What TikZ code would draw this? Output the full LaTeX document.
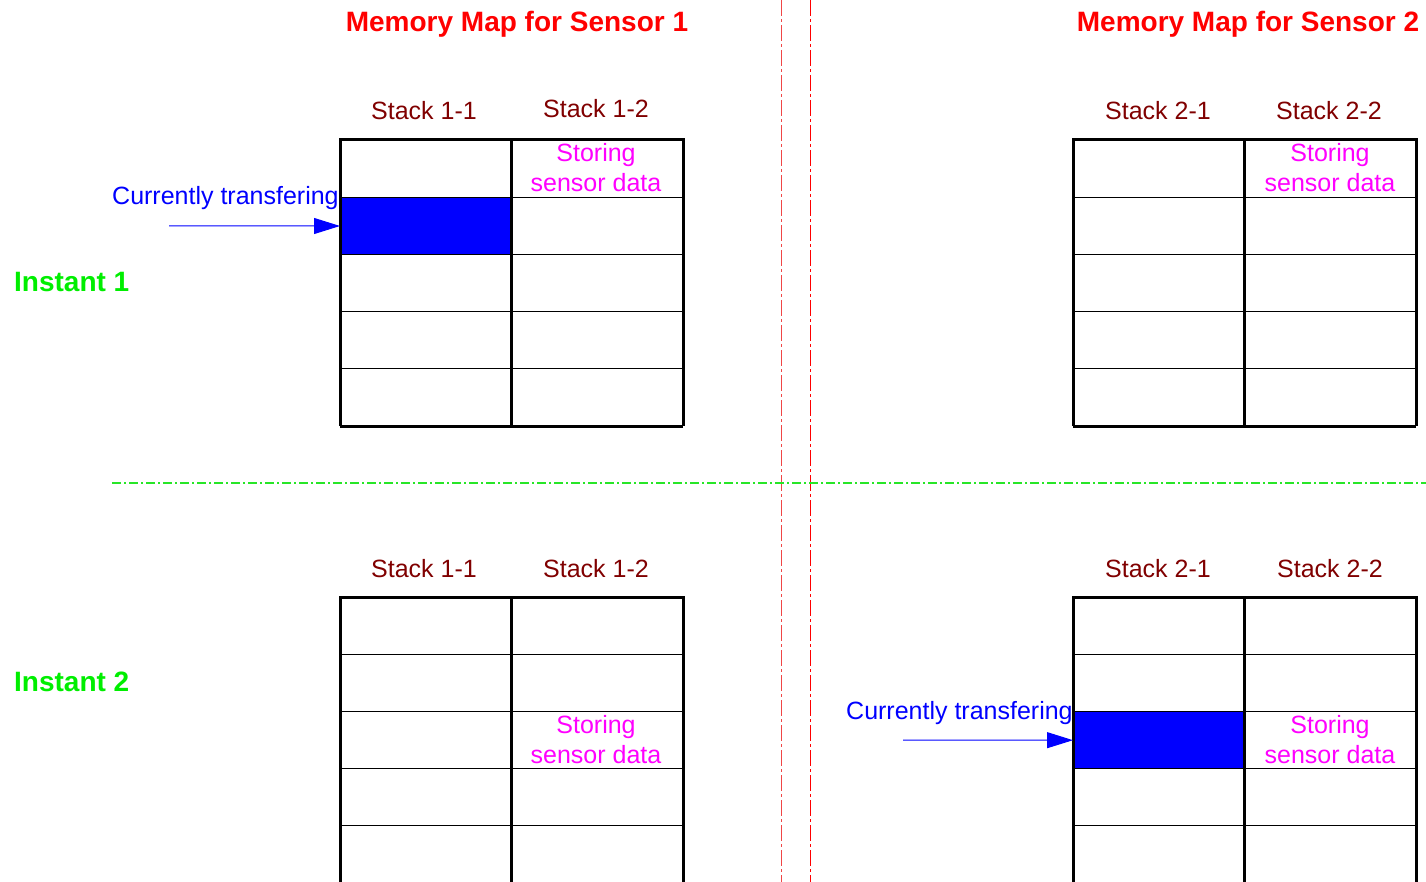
\documentclass[tikz,border=0pt]{standalone}
\usepackage{fontspec}
\setmainfont{Liberation Sans}
\definecolor{titlered}{RGB}{255,0,0}
\definecolor{stackred}{RGB}{128,0,0}
\definecolor{storemag}{RGB}{255,0,255}
\definecolor{instgreen}{RGB}{0,238,0}
\definecolor{xferblue}{RGB}{0,0,255}
\definecolor{sepgreen}{RGB}{40,230,40}
\definecolor{seppink}{RGB}{240,70,70}
\newcommand\memgrid[3]{% #1 left x, #2 top y, #3 bottom y
  \foreach \k in {1,...,4} {\draw[cellline] (#1,{#2+57.2*\k}) -- ({#1+343},{#2+57.2*\k});}
  \draw[gridline] (#1,#3) -- (#1,#2) -- ({#1+343},#2) -- ({#1+343},#3);
  \draw[gridline] (#1,#3) -- ({#1+343},#3);
  \draw[gridline] ({#1+171},#2) -- ({#1+171},#3);
}
\tikzset{
  titletext/.style={font=\bfseries\fontsize{28}{32}\selectfont, text=titlered, inner sep=0pt, anchor=base},
  instanttext/.style={font=\bfseries\fontsize{28}{32}\selectfont, text=instgreen, inner sep=0pt, anchor=base west},
  stacktext/.style={font=\fontsize{25}{30}\selectfont, text=stackred, inner sep=0pt, anchor=base},
  storetext/.style={font=\fontsize{25}{30}\selectfont, text=storemag, inner sep=0pt, anchor=base},
  xfertext/.style={font=\fontsize{25}{30}\selectfont, text=xferblue, inner sep=0pt, anchor=base west},
  bluecell/.style={fill=xferblue, draw=none, minimum width=171pt, minimum height=57.2pt, inner sep=0pt, anchor=north west},
  xferarrow/.style={draw=xferblue, line width=1pt, -{Triangle[length=26pt,width=16pt]}},
  cellline/.style={line width=1.3pt, black},
  gridline/.style={line width=3pt, black},
  vsep/.style={line width=1.8pt, dash pattern=on 16pt off 3pt on 3pt off 3pt},
  hsep/.style={draw=sepgreen, line width=1.3pt, dash pattern=on 9pt off 3pt on 2pt off 3pt},
}
\usetikzlibrary{arrows.meta}
\begin{document}
\begin{tikzpicture}[x=1pt,y=-1pt]
\useasboundingbox (0,0) rectangle (1426,882);
\clip (0,0) rectangle (1426,882);
% separators
\coordinate (v1t) at (781.5,0); \coordinate (v1b) at (781.5,882);
\coordinate (v2t) at (810.5,0); \coordinate (v2b) at (810.5,882);
\coordinate (hl) at (112,483); \coordinate (hr) at (1426,483);
\draw[vsep, draw=seppink] (v1t) -- (v1b);
\draw[vsep, draw=titlered] (v2t) -- (v2b);
\draw[hsep] (hl) -- (hr);
% titles
\node[titletext] (t1) at (517,32) {Memory Map for Sensor 1};
\node[titletext] (t2) at (1248,32) {Memory Map for Sensor 2};
\node[instanttext] (i1) at (14,292) {Instant 1};
\node[instanttext] (i2) at (14,691) {Instant 2};
% stack labels
\node[stacktext] (s11a) at (424,120) {Stack 1-1};
\node[stacktext] (s12a) at (596,118) {Stack 1-2};
\node[stacktext] (s21a) at (1158,120) {Stack 2-1};
\node[stacktext] (s22a) at (1329,120) {Stack 2-2};
\node[stacktext] (s11b) at (424,577) {Stack 1-1};
\node[stacktext] (s12b) at (596,577) {Stack 1-2};
\node[stacktext] (s21b) at (1158,577) {Stack 2-1};
\node[stacktext] (s22b) at (1330,577) {Stack 2-2};
% blue cells
\node[bluecell] (b1) at (340,197.2) {};
\node[bluecell] (b2) at (1073,711.4) {};
% grids
\memgrid{340}{140}{426}
\memgrid{1073}{140}{426}
\memgrid{340}{597}{883}
\memgrid{1073}{597}{883}
% storing labels
\node[storetext] (st1a) at (596,162) {Storing};
\node[storetext] (st1b) at (596,192) {sensor data};
\node[storetext] (st2a) at (1330,162) {Storing};
\node[storetext] (st2b) at (1330,192) {sensor data};
\node[storetext] (st3a) at (596,733) {Storing};
\node[storetext] (st3b) at (596,763) {sensor data};
\node[storetext] (st4a) at (1330,733) {Storing};
\node[storetext] (st4b) at (1330,763) {sensor data};
% transfer labels and arrows
\node[xfertext] (x1) at (112,205) {Currently transfering};
\node[xfertext] (x2) at (846,719) {Currently transfering};
\coordinate (a1) at (169,226);
\coordinate (a2) at (903,740);
\draw[xferarrow] (a1) -- (b1.west);
\draw[xferarrow] (a2) -- (b2.west);
\end{tikzpicture}
\end{document}
